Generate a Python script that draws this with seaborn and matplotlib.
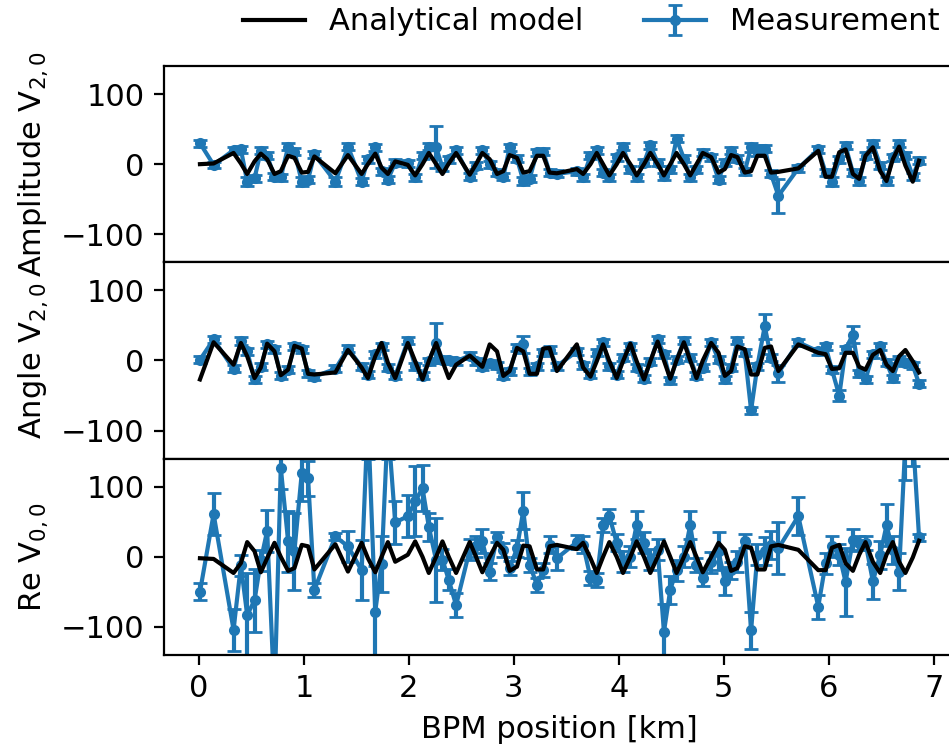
import matplotlib
matplotlib.use("Agg")
import matplotlib.pyplot as plt
import seaborn as sns
import numpy as np

# ---------------- data ----------------
bpm_km = [0.01, 0.14, 0.33, 0.40, 0.46, 0.53, 0.59, 0.65, 0.72, 0.78,
          0.85, 0.91, 0.98, 1.04, 1.10, 1.30, 1.42, 1.55, 1.61, 1.68,
          1.74, 1.80, 1.87, 1.99, 2.06, 2.13, 2.19, 2.26, 2.32, 2.38,
          2.45, 2.58, 2.64, 2.70, 2.77, 2.84, 2.90, 2.96, 3.03, 3.09,
          3.15, 3.22, 3.28, 3.34, 3.41, 3.60, 3.66, 3.73, 3.79, 3.85,
          3.91, 3.98, 4.04, 4.11, 4.17, 4.24, 4.30, 4.37, 4.43, 4.49,
          4.55, 4.62, 4.68, 4.74, 4.80, 4.88, 4.95, 5.01, 5.07, 5.13,
          5.20, 5.26, 5.32, 5.39, 5.45, 5.52, 5.71, 5.90, 5.97, 6.03,
          6.10, 6.16, 6.23, 6.29, 6.35, 6.42, 6.49, 6.55, 6.61, 6.67,
          6.73, 6.80, 6.86]

amp_model = [0, 1, 16, 1, -14, 4, 15, 7, -14, -10,
             12, 9, -12, -11, 11, -13, 13, -14, 0, 15,
             -5, -14, 4, -1, -16, 0, 16, 0, -14, 1,
             16, -15, 0, 16, 7, -14, -10, 13, 9, -12,
             -10, 12, 12, -12, -13, -7, -14, 0, 16, 0,
             -16, 0, 16, 0, -16, 0, 16, 0, -16, 0,
             16, 0, -16, 0, 16, 10, -12, -7, 13, 10,
             -12, -10, 12, 12, -12, -11, -6, 19, -18, -18,
             17, 21, -14, -21, 12, 24, -10, -24, 7, 25,
             -2, -25, 5]
amp_meas = [30, -1, 20, 21, -25, -20, 19, 12, -18, -19,
            25, 18, -25, -22, 14, -25, 25, -25, 7, 24,
            -10, -22, 2, 1, -19, 12, 25, 24, -5, 7,
            20, -18, -2, 20, 0, -12, -18, 24, 8, -24,
            -21, 17, 18, -12, -14, -10, -19, 12, 20, -12,
            -19, 10, 25, -7, -19, 2, 27, 2, -17, -7,
            36, 8, -19, -7, 16, 10, -22, 2, 19, 8,
            -10, 24, 19, 22, -14, -45, -6, 21, -12, -25,
            7, 26, -12, -24, 12, 29, -2, -24, 10, 29,
            12, -17, 5]
amp_err = [5, 4, 5, 5, 6, 5, 5, 5, 5, 5,
           5, 5, 6, 5, 5, 6, 5, 5, 5, 5,
           5, 5, 5, 5, 5, 5, 5, 30, 5, 5,
           5, 5, 5, 5, 5, 5, 5, 5, 5, 5,
           5, 5, 5, 5, 5, 5, 5, 5, 5, 5,
           5, 5, 5, 5, 5, 5, 5, 5, 5, 5,
           5, 5, 5, 5, 5, 5, 5, 5, 5, 5,
           5, 6, 8, 5, 5, 24, 5, 5, 5, 6,
           5, 5, 5, 5, 5, 5, 5, 6, 5, 5,
           5, 5, 5]

ang_model = [-27, 26, -6, 25, 6, -25, -10, 24, 13, -21,
             -13, 21, 17, -19, -20, -17, 15, -10, -25, 6,
             25, -3, -25, 25, -1, -27, -1, 25, -1, -25,
             -6, 7, -1, -9, 23, 13, -22, -15, 18, 13,
             -19, -19, 17, 18, -15, 23, -10, -23, -1, 23,
             -1, -25, -1, 24, -1, -27, -1, 27, 0, -26,
             0, 26, 0, -25, 0, 25, 11, -22, -15, 20,
             16, -20, -20, 18, 20, -15, 23, 11, 9, -12,
             -11, 11, 11, -9, -13, 8, 15, -6, -15, 6,
             15, -1, -17]
ang_meas = [1, 30, -12, 28, 13, -27, -9, 23, 16, -22,
            -13, 20, 16, -18, -23, -12, 17, -9, -20, 9,
            20, -10, -22, 28, -8, -22, -1, 25, 1, 0,
            -1, 7, -1, -9, -4, -7, -22, -15, 18, 23,
            -15, -8, 12, 15, -8, 13, -7, -20, 11, 26,
            -8, -20, 4, 20, -10, -26, -2, 30, 9, -28,
            1, 28, 4, -22, -10, 26, 1, -27, -10, 28,
            11, -71, -8, 49, 4, -18, 26, 13, 20, -13,
            -50, 16, 37, -18, -27, 9, 20, -3, -25, 1,
            -3, -7, -33]
ang_err = [5, 5, 5, 6, 5, 5, 5, 5, 5, 5,
           5, 5, 5, 5, 5, 5, 5, 5, 5, 5,
           5, 5, 5, 5, 5, 5, 5, 28, 5, 5,
           5, 5, 5, 5, 5, 5, 5, 5, 5, 12,
           5, 5, 5, 5, 5, 5, 5, 5, 5, 5,
           5, 5, 5, 5, 5, 5, 5, 5, 5, 5,
           5, 5, 5, 5, 5, 5, 5, 5, 5, 5,
           5, 5, 5, 18, 5, 12, 5, 5, 5, 5,
           8, 5, 12, 5, 5, 5, 5, 5, 5, 5,
           5, 5, 5]

re_model = [-2, -3, -23, -9, 21, 8, -22, -2, 20, 0,
            -20, -16, 17, 15, -18, 18, -21, 20, -2, -22,
            0, 21, -7, 3, 22, 0, -23, 0, 22, 0,
            -23, 21, 0, -22, 0, 20, 10, -20, -14, 16,
            15, -18, -18, 15, 17, 11, 20, -2, -23, 0,
            21, 0, -23, 0, 22, 0, -23, 0, 22, 0,
            -23, 0, 21, 0, -22, 0, 20, 10, -20, -16,
            15, 13, -18, -18, 15, 17, 10, -19, -19, 13,
            17, -9, -20, 3, 21, -7, -23, 3, 21, -7,
            -23, -1, 23]
re_meas = [-50, 61, -104, -12, -83, -62, -5, 37, -200, 127,
           22, 8, 120, 112, -47, 29, 15, -19, 200, -78,
           -10, 190, 49, 58, 79, 98, 43, -5, -4, -33,
           -69, 10, 15, 22, -21, 28, 10, -16, 12, 66,
           -11, -40, -19, 17, -2, 21, 17, -30, -33, 45,
           58, 20, -7, 0, 46, 20, -4, 10, -107, -47,
           -19, 0, 45, -11, -30, -8, 8, -35, -19, -7,
           23, -105, 3, 8, 17, 12, 58, -71, -9, 15,
           3, -36, 24, 20, 20, -35, 3, 45, 10, -21,
           165, 175, 28]
re_err = [12, 30, 30, 15, 60, 45, 15, 30, 40, 30,
          43, 55, 40, 25, 10, 5, 22, 43, 60, 65,
          40, 50, 30, 30, 50, 33, 20, 60, 15, 15,
          17, 15, 15, 17, 12, 7, 10, 10, 12, 27,
          10, 10, 10, 12, 17, 10, 12, 10, 10, 10,
          10, 12, 15, 15, 20, 15, 15, 15, 40, 20,
          15, 15, 20, 10, 12, 15, 27, 20, 12, 15,
          10, 27, 15, 20, 20, 37, 27, 17, 15, 15,
          15, 48, 15, 10, 10, 25, 20, 30, 20, 27,
          55, 45, 5]

panel_labels = [r"Amplitude V$_{2,0}$", r"Angle V$_{2,0}$", r"Re V$_{0,0}$"]
x_ticks = [0, 1, 2, 3, 4, 5, 6, 7]
y_ticks = [-100, 0, 100]
x_label = "BPM position [km]"
legend_labels = ["Analytical model", "Measurement"]

# ---------------- styling ----------------
plt.rcParams["font.family"] = ["DejaVu Sans"]
plt.rcParams["font.size"] = 11
plt.rcParams["mathtext.fontset"] = "dejavusans"

W, H, DPI = 949, 751, 200
fig = plt.figure(figsize=(W / DPI, H / DPI), dpi=DPI)

left = 164 / W
right = 955 / W
top = 1 - 66 / H
bottom = 1 - 655 / H
h = (top - bottom) / 3

series = [(amp_model, amp_meas, amp_err),
          (ang_model, ang_meas, ang_err),
          (re_model, re_meas, re_err)]

axes = []
model_handle = None
meas_handle = None
for i, (model, meas, err) in enumerate(series):
    ax = fig.add_axes([left, top - (i + 1) * h, right - left, h],
                      sharex=axes[0] if axes else None)
    axes.append(ax)
    eb = ax.errorbar(bpm_km, meas, yerr=err, fmt=".-", color="C0",
                     capsize=2.5, label=legend_labels[1], zorder=2)
    sns.lineplot(x=bpm_km, y=model, color="black", linewidth=1.5,
                 ax=ax, legend=False, errorbar=None, sort=False,
                 label=legend_labels[0], zorder=5)
    if ax.get_legend() is not None:
        ax.get_legend().remove()
    if i == 0:
        model_handle = ax.lines[-1]
        meas_handle = eb
    ax.set_ylim(-140, 140)
    ax.set_yticks(y_ticks)
    ax.set_ylabel(panel_labels[i])
    if i < 2:
        ax.tick_params(labelbottom=False)

axes[0].set_xlim(-0.3325, 7.2025)
axes[0].set_xticks(x_ticks)
axes[2].set_xlabel(x_label)

fig.legend([model_handle, meas_handle], legend_labels, loc="center",
           bbox_to_anchor=(591.5 / W, 1 - 22 / H), ncol=2, frameon=False)

fig.savefig("out.png", dpi=DPI)
